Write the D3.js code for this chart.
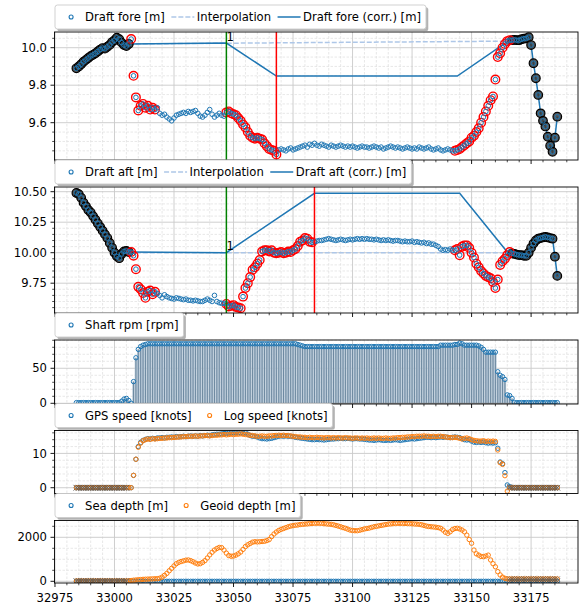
<!DOCTYPE html>
<html>
<head>
<meta charset="utf-8">
<script src="https://cdn.jsdelivr.net/npm/d3@7"></script>
<style>
body { margin: 0; background: #fff; }
svg { display: block; font-family: "DejaVu Sans", sans-serif; font-size: 11.6px; }
</style>
</head>
<body>
<svg id="chart" width="579" height="607"></svg>
<script>
// ---- data (one value per sample, samples 32984 .. 33186) ----
const firstSample = 32984, lastSample = 33186;

const draftFore = [
    9.890, 9.900, 9.912, 9.925, 9.935, 9.945, 9.955, 9.962, 9.970, 9.980,
    9.990, 9.998, 9.995, 10.005, 10.015, 10.030, 10.040, 10.053, 10.045, 10.027,
    10.014, 10.009, 10.020, 10.046, 9.850, 9.735, 9.665, 9.690, 9.700, 9.680,
    9.690, 9.670, 9.680, 9.670, 9.680, 9.650, 9.640, 9.645, 9.630, 9.620,
    9.610, 9.625, 9.640, 9.645, 9.650, 9.655, 9.650, 9.660, 9.655, 9.660,
    9.665, 9.650, 9.635, 9.630, 9.640, 9.655, 9.670, 9.645, 9.630, 9.640,
    9.650, 9.640, 9.635, 9.655, 9.660, 9.650, 9.645, 9.640, 9.625, 9.610,
    9.590, 9.575, 9.550, 9.530, 9.520, 9.515, 9.520, 9.515, 9.510, 9.490,
    9.475, 9.460, 9.455, 9.450, 9.430, 9.455, 9.460, 9.455, 9.450, 9.460,
    9.465, 9.455, 9.460, 9.465, 9.470, 9.475, 9.480, 9.470, 9.485, 9.480,
    9.490, 9.480, 9.475, 9.485, 9.480, 9.475, 9.470, 9.480, 9.475, 9.470,
    9.475, 9.480, 9.475, 9.470, 9.475, 9.470, 9.475, 9.470, 9.465, 9.470,
    9.475, 9.470, 9.470, 9.465, 9.470, 9.475, 9.470, 9.465, 9.470, 9.460,
    9.465, 9.470, 9.475, 9.470, 9.465, 9.470, 9.465, 9.460, 9.465, 9.470,
    9.465, 9.460, 9.465, 9.460, 9.470, 9.465, 9.460, 9.465, 9.470, 9.460,
    9.455, 9.460, 9.465, 9.455, 9.450, 9.455, 9.460, 9.455, 9.450, 9.450,
    9.455, 9.460, 9.470, 9.480, 9.490, 9.500, 9.520, 9.530, 9.550, 9.570,
    9.600, 9.630, 9.660, 9.690, 9.720, 9.740, 9.830, 9.950, 9.970, 10.000,
    10.020, 10.035, 10.040, 10.040, 10.042, 10.040, 10.040, 10.045, 10.048, 10.050,
    10.056, 10.014, 9.917, 9.837, 9.748, 9.650, 9.610, 9.580, 9.525, 9.477,
    9.445, 9.520, 9.632
];

const draftAft = [
    10.490, 10.480, 10.450, 10.410, 10.380, 10.350, 10.330, 10.300, 10.270, 10.240,
    10.210, 10.180, 10.150, 10.120, 10.080, 10.040, 10.000, 9.970, 9.955, 9.990,
    10.010, 10.015, 10.005, 10.005, 9.975, 9.865, 9.720, 9.700, 9.670, 9.630,
    9.680, 9.690, 9.660, 9.680, 9.665, 9.650, 9.630, 9.655, 9.640, 9.630,
    9.625, 9.620, 9.630, 9.625, 9.620, 9.615, 9.620, 9.610, 9.610, 9.605,
    9.610, 9.605, 9.600, 9.600, 9.610, 9.620, 9.610, 9.600, 9.650, 9.600,
    9.590, 9.585, 9.585, 9.580, 9.560, 9.565, 9.570, 9.555, 9.550, 9.545,
    9.640, 9.710, 9.750, 9.800, 9.860, 9.880, 9.910, 9.940, 10.010, 10.020,
    10.020, 10.010, 10.020, 10.000, 9.995, 10.000, 10.005, 9.995, 10.000, 10.010,
    10.005, 10.020, 10.030, 10.055, 10.090, 10.100, 10.120, 10.115, 10.090, 10.085,
    10.090, 10.095, 10.100, 10.100, 10.105, 10.110, 10.115, 10.110, 10.105, 10.100,
    10.105, 10.110, 10.105, 10.100, 10.105, 10.110, 10.105, 10.110, 10.115, 10.110,
    10.115, 10.110, 10.115, 10.110, 10.110, 10.105, 10.110, 10.105, 10.100, 10.105,
    10.100, 10.105, 10.100, 10.095, 10.100, 10.100, 10.095, 10.090, 10.095, 10.090,
    10.090, 10.095, 10.085, 10.090, 10.085, 10.080, 10.085, 10.075, 10.080, 10.070,
    10.070, 10.060, 10.050, 10.030, 10.020, 10.025, 10.020, 10.030, 10.020, 10.020,
    10.030, 9.980, 10.050, 10.060, 10.060, 10.040, 10.000, 9.960, 9.910, 9.880,
    9.850, 9.830, 9.810, 9.800, 9.790, 9.760, 9.710, 9.780, 9.900, 9.930,
    9.950, 9.980, 10.005, 9.995, 9.990, 9.985, 9.980, 9.980, 9.975, 9.975,
    10.000, 10.040, 10.075, 10.100, 10.115, 10.120, 10.125, 10.130, 10.125, 10.120,
    10.115, 9.967, 9.810
];

const shaftRpm = [
    1, 1, 1, 1, 1, 1, 1, 1, 1, 1,
    1, 1, 1, 1, 1, 1, 1, 1, 1, 3,
    6, 7, 4, 0, 31, 65, 77, 81, 83, 84,
    85, 85, 85, 85, 85, 85, 85, 85, 85, 85,
    85, 85, 85, 85, 85, 85, 85, 85, 85, 85,
    85, 85, 85, 85, 85, 85, 85, 85, 85, 85,
    85, 85, 85, 85, 85, 85, 85, 85, 85, 85,
    85, 85, 85, 85, 85, 85, 85, 85, 85, 85,
    85, 85, 85, 85, 85, 85, 85, 85, 85, 85,
    85, 85, 85, 84, 83, 82, 81, 81, 81, 81,
    81, 81, 81, 81, 81, 81, 81, 81, 81, 81,
    81, 81, 81, 81, 81, 81, 81, 81, 81, 81,
    81, 81, 81, 81, 81, 81, 81, 81, 81, 81,
    81, 81, 81, 81, 81, 81, 81, 81, 81, 81,
    81, 81, 81, 81, 81, 81, 81, 81, 81, 81,
    81, 81, 81, 83, 83, 83, 83, 83, 83, 84,
    84, 86, 85, 83, 83, 83, 83, 83, 83, 82,
    80, 77, 73, 73, 73, 73, 73, 45, 40, 38,
    34, 12, 11, 7, 1, 1, 1, 1, 1, 1,
    1, 1, 1, 1, 1, 1, 1, 1, 1, 1,
    1, 1, 1
];

const gpsSpeed = [
    0, 0, 0, 0, 0, 0, 0, 0, 0, 0,
    0, 0, 0, 0, 0, 0, 0, 0, 0, 0,
    0, 0, 0, 0, 3.6, 8.3, 12.0, 13.2, 13.8, 14.1,
    14.3, 14.2, 14.4, 14.3, 14.5, 14.5, 14.6, 14.5, 14.7, 14.7,
    14.8, 14.7, 14.9, 14.8, 14.9, 15.0, 14.9, 15.0, 15.1, 15.0,
    15.1, 15.0, 15.2, 15.1, 15.2, 15.3, 15.2, 15.4, 15.5, 15.6,
    15.6, 15.7, 15.8, 15.8, 15.9, 16.0, 16.0, 16.1, 16.0, 16.0,
    15.9, 16.0, 15.6, 15.2, 15.0, 15.0, 14.8, 14.5, 14.3, 14.3,
    14.2, 14.3, 14.4, 14.6, 14.8, 15.0, 15.1, 15.0, 15.1, 15.0,
    15.0, 14.9, 14.7, 14.6, 14.5, 14.4, 14.3, 14.2, 14.1, 14.0,
    14.0, 14.1, 14.0, 14.0, 13.9, 14.0, 14.1, 14.2, 14.2, 14.3,
    14.3, 14.4, 14.3, 14.3, 14.4, 14.3, 14.2, 14.3, 14.3, 14.2,
    14.2, 14.1, 14.0, 13.9, 13.9, 13.8, 13.9, 14.0, 13.9, 13.8,
    13.8, 13.9, 13.8, 13.9, 14.0, 13.9, 13.8, 13.9, 14.0, 14.1,
    14.2, 14.3, 14.2, 14.3, 14.4, 14.5, 14.6, 14.7, 14.7, 14.6,
    14.7, 14.6, 14.7, 14.8, 14.7, 14.8, 14.7, 14.6, 14.7, 14.8,
    14.7, 14.6, 14.3, 14.0, 13.9, 14.0, 13.6, 13.3, 13.2, 13.3,
    13.2, 13.3, 13.1, 13.0, 13.1, 13.0, 13.1, 11.5, 7.5, 7.0,
    4.4, 0.8, 0.3, 0, 0, 0, 0, 0, 0, 0,
    0, 0, 0, 0, 0, 0, 0, 0, 0, 0,
    0, 0, 0
];

const logSpeed = [
    0, 0, 0, 0, 0, 0, 0, 0, 0, 0,
    0, 0, 0, 0, 0, 0, 0, 0, 0, 0,
    0, 0, 0, 0, 3.6, 8.3, 11.8, 13.0, 13.7, 14.0,
    14.2, 14.1, 14.3, 14.2, 14.3, 14.4, 14.4, 14.5, 14.5, 14.6,
    14.6, 14.7, 14.7, 14.8, 14.8, 14.9, 14.9, 15.0, 15.0, 15.0,
    15.1, 15.0, 15.1, 15.1, 15.2, 15.2, 15.1, 15.2, 15.3, 15.3,
    15.4, 15.4, 15.5, 15.4, 15.5, 15.6, 15.5, 15.6, 15.6, 15.7,
    15.6, 15.5, 15.4, 15.3, 15.2, 15.1, 15.0, 15.0, 15.1, 15.0,
    15.0, 15.1, 15.1, 15.2, 15.2, 15.3, 15.2, 15.3, 15.2, 15.2,
    15.1, 15.0, 14.9, 14.8, 14.8, 14.7, 14.7, 14.6, 14.7, 14.6,
    14.6, 14.7, 14.6, 14.6, 14.5, 14.6, 14.6, 14.5, 14.6, 14.5,
    14.6, 14.5, 14.5, 14.6, 14.5, 14.5, 14.4, 14.5, 14.5, 14.4,
    14.5, 14.4, 14.5, 14.4, 14.4, 14.5, 14.4, 14.5, 14.4, 14.4,
    14.5, 14.4, 14.4, 14.5, 14.5, 14.6, 14.6, 14.7, 14.7, 14.8,
    14.8, 14.9, 14.9, 15.0, 15.0, 15.0, 15.1, 15.0, 15.0, 14.9,
    15.0, 14.9, 15.0, 15.0, 14.9, 14.8, 14.7, 14.6, 14.6, 14.7,
    14.6, 14.4, 14.2, 14.4, 14.5, 14.3, 14.0, 13.8, 13.7, 13.6,
    13.6, 13.7, 13.5, 13.6, 13.5, 13.6, 13.5, 11.0, 7.3, 6.8,
    3.5, -1.0, 0, 0, 0, 0, 0, 0, 0, 0,
    0, 0, 0, 0, 0, 0, 0, 0, 0, 0,
    0, 0, 0
];

const seaDepth = [
    0, 0, 0, 0, 0, 0, 0, 0, 0, 0, 0, 0, 0, 0, 0, 0, 0, 0, 0, 0,
    0, 0, 0, 0, 0, 0, 0, 0, 0, 0, 0, 0, 0, 0, 0, 0, 0, 0, 0, 0,
    0, 0, 0, 0, 0, 0, 0, 0, 0, 0, 0, 0, 0, 0, 0, 0, 0, 0, 0, 0,
    0, 0, 0, 0, 0, 0, 0, 0, 0, 0, 0, 0, 0, 0, 0, 0, 0, 0, 0, 0,
    0, 0, 0, 0, 0, 0, 0, 0, 0, 0, 0, 0, 0, 0, 0, 0, 0, 0, 0, 0,
    0, 0, 0, 0, 0, 0, 0, 0, 0, 0, 0, 0, 0, 0, 0, 0, 0, 0, 0, 0,
    0, 0, 0, 0, 0, 0, 0, 0, 0, 0, 0, 0, 0, 0, 0, 0, 0, 0, 0, 0,
    0, 0, 0, 0, 0, 0, 0, 0, 0, 0, 0, 0, 0, 0, 0, 0, 0, 0, 0, 0,
    0, 0, 0, 0, 0, 0, 0, 0, 0, 0, 0, 0, 0, 0, 0, 0, 0, 0, 0, 0,
    0, 0, 0, 0, 0, 0, 0, 0, 0, 0, 0, 0, 0, 0, 0, 0, 0, 0, 0, 0,
    0, 0, 0
];

const geoidDepth = [
    15, 15, 15, 15, 15, 15, 15, 15, 15, 15,
    15, 15, 15, 15, 15, 15, 15, 15, 15, 15,
    15, 15, 25, 35, 50, 60, 70, 80, 90, 95,
    100, 105, 110, 115, 120, 140, 190, 270, 360, 480,
    590, 700, 800, 860, 900, 930, 960, 970, 940, 890,
    830, 790, 800, 860, 940, 1060, 1200, 1320, 1420, 1490,
    1540, 1530, 1420, 1280, 1170, 1140, 1150, 1190, 1250, 1330,
    1450, 1580, 1660, 1720, 1780, 1800, 1790, 1800, 1810, 1820,
    1850, 1900, 2030, 2150, 2240, 2310, 2360, 2400, 2440, 2480,
    2510, 2530, 2550, 2560, 2580, 2590, 2600, 2610, 2620, 2630,
    2635, 2640, 2640, 2635, 2620, 2610, 2600, 2590, 2570, 2540,
    2510, 2480, 2440, 2410, 2370, 2330, 2310, 2300, 2300, 2320,
    2350, 2380, 2400, 2420, 2450, 2480, 2500, 2520, 2540, 2560,
    2580, 2600, 2610, 2620, 2630, 2635, 2635, 2630, 2630, 2625,
    2620, 2615, 2605, 2600, 2590, 2570, 2540, 2510, 2490, 2480,
    2470, 2460, 2440, 2410, 2330, 2230, 2180, 2250, 2350, 2400,
    2410, 2380, 2330, 2250, 2100, 1900, 1730, 1420, 1250, 1190,
    1130, 1120, 1150, 1190, 970, 800, 660, 440, 290, 190,
    136, 110, 105, 105, 105, 105, 105, 105, 105, 105,
    105, 105, 105, 105, 105, 105, 105, 105, 105, 105,
    105, 105, 105
];

// sample ranges flagged in the draft plots
const foreBlack = [[32984, 33006], [33167, 33186]];
const foreRed = [[33007, 33017], [33047, 33068], [33143, 33166]];
const aftBlack = [[32984, 33006], [33167, 33186]];
const aftRed = [[33007, 33017], [33047, 33083], [33143, 33166]];
// samples without valid speed / depth
const invalidRanges = [[32984, 33005], [33166, 33186]];

// interpolation and corrected draft knots
const foreInterp = [[33006, 10.020], [33166, 10.035]];
const aftInterp = [[33006, 10.0], [33166, 10.0]];
const foreCorrKnots = [[33047, 10.025], [33068, 9.849], [33144, 9.849], [33165, 10.032]];
const aftCorrKnots = [[33047, 10.0], [33084, 10.487], [33145, 10.487], [33165, 10.005]];

// events
const startEvent = 33047;
const foreEnd = 33068;
const aftEnd = 33084;

// axis ticks
const xTicks = [32975, 33000, 33025, 33050, 33075, 33100, 33125, 33150, 33175];
const foreTicks = [9.6, 9.8, 10.0];
const aftTicks = [9.75, 10.0, 10.25, 10.5];
const rpmTicks = [0, 50];
const speedTicks = [0, 10];
const depthTicks = [0, 2000];

// ---- layout ----
const C0 = '#1f77b4', C1 = '#ff7f0e', C0light = '#aec7e8';
const L = 54.5, R = 578;
const svg = d3.select('#chart');

let x = d3.scaleLinear().domain([32974.8, 33194.7]).range([L, R]);
let samples = d3.range(firstSample, lastSample + 1);

let inRanges = (list, v) => list.some(r => v >= r[0] && v <= r[1]);
let pts = (values) => samples.map((s, i) => ({ s: s, v: values[i] }));

let minorTicks = (domain, step, majors) => {
    let lo = Math.ceil(Math.min(...domain) / step), hi = Math.floor(Math.max(...domain) / step);
    return d3.range(lo, hi + 1).map(k => k * step)
        .filter(v => !majors.some(m => Math.abs(m - v) < step / 10));
};

let panelCount = 0;

let makePanel = (cfg) => {
    let y = d3.scaleLinear().domain(cfg.domain).range([cfg.bottom, cfg.top]);
    let g = svg.append('g');
    let id = 'clip' + (panelCount++);
    svg.append('clipPath').attr('id', id)
        .append('rect').attr('x', L).attr('y', cfg.top).attr('width', R - L).attr('height', cfg.bottom - cfg.top);

    let xMinor = minorTicks(x.domain(), 5, xTicks);
    let yMinor = minorTicks(cfg.domain, cfg.minor, cfg.ticks);

    // minor grid
    g.selectAll('.gx-minor').data(xMinor).enter().append('line')
        .attr('x1', d => x(d)).attr('x2', d => x(d)).attr('y1', cfg.top).attr('y2', cfg.bottom)
        .attr('stroke', '#dedede').attr('stroke-width', 0.7).attr('stroke-dasharray', '2.5,1.5');
    g.selectAll('.gy-minor').data(yMinor).enter().append('line')
        .attr('x1', L).attr('x2', R).attr('y1', d => y(d)).attr('y2', d => y(d))
        .attr('stroke', '#dedede').attr('stroke-width', 0.7).attr('stroke-dasharray', '2.5,1.5');
    // major grid
    g.selectAll('.gx').data(xTicks).enter().append('line')
        .attr('x1', d => x(d)).attr('x2', d => x(d)).attr('y1', cfg.top).attr('y2', cfg.bottom)
        .attr('stroke', '#c9c9c9').attr('stroke-width', 0.9);
    g.selectAll('.gy').data(cfg.ticks).enter().append('line')
        .attr('x1', L).attr('x2', R).attr('y1', d => y(d)).attr('y2', d => y(d))
        .attr('stroke', '#c9c9c9').attr('stroke-width', 0.9);

    let plot = g.append('g').attr('clip-path', 'url(#' + id + ')');
    return { y: y, g: g, plot: plot, cfg: cfg, xMinor: xMinor, yMinor: yMinor };
};

let finishPanel = (p, showX) => {
    let cfg = p.cfg, g = svg.append('g');
    g.append('rect').attr('x', L).attr('y', cfg.top).attr('width', R - L).attr('height', cfg.bottom - cfg.top)
        .attr('fill', 'none').attr('stroke', '#000').attr('stroke-width', 0.9);
    // y ticks
    g.selectAll('.ty').data(cfg.ticks).enter().append('line')
        .attr('x1', L - 4).attr('x2', L).attr('y1', d => p.y(d)).attr('y2', d => p.y(d))
        .attr('stroke', '#000').attr('stroke-width', 0.9);
    g.selectAll('.tym').data(p.yMinor).enter().append('line')
        .attr('x1', L - 2.3).attr('x2', L).attr('y1', d => p.y(d)).attr('y2', d => p.y(d))
        .attr('stroke', '#000').attr('stroke-width', 0.7);
    g.selectAll('.ly').data(cfg.ticks).enter().append('text')
        .attr('x', L - 7.5).attr('y', d => p.y(d)).attr('dy', '0.36em')
        .attr('text-anchor', 'end').attr('fill', '#000')
        .text(d => d3.format(cfg.fmt)(d));
    // x ticks
    g.selectAll('.tx').data(xTicks).enter().append('line')
        .attr('x1', d => x(d)).attr('x2', d => x(d)).attr('y1', cfg.bottom).attr('y2', cfg.bottom + 4)
        .attr('stroke', '#000').attr('stroke-width', 0.9);
    g.selectAll('.txm').data(p.xMinor).enter().append('line')
        .attr('x1', d => x(d)).attr('x2', d => x(d)).attr('y1', cfg.bottom).attr('y2', cfg.bottom + 2.3)
        .attr('stroke', '#000').attr('stroke-width', 0.7);
    if (showX) {
        g.selectAll('.lx').data(xTicks).enter().append('text')
            .attr('x', d => x(d)).attr('y', cfg.bottom + 19)
            .attr('text-anchor', 'middle').attr('fill', '#000')
            .text(d => d);
    }
};

let legend = (cfg, entries) => {
    let h = 24, top = cfg.top - 27, x0 = 55, cy = top + h / 2;
    let lg = svg.append('g');
    let shadow = lg.append('rect'), box = lg.append('rect');
    let cx = x0 + 4.6;
    entries.forEach((e, k) => {
        if (k) cx += 6.5;
        if (e.type === 'marker') {
            lg.append('circle').attr('cx', cx + 11.5).attr('cy', cy).attr('r', 2)
                .attr('fill', 'none').attr('stroke', e.color).attr('stroke-width', 1.1);
        } else {
            lg.append('line').attr('x1', cx).attr('x2', cx + 23).attr('y1', cy).attr('y2', cy)
                .attr('stroke', e.color).attr('stroke-width', 1.5)
                .attr('stroke-dasharray', e.type === 'dash' ? '5,2' : null);
        }
        cx += 23 + 2.5;
        let txt = lg.append('text').attr('x', cx).attr('y', cy).attr('dy', '0.36em').attr('fill', '#000').text(e.label);
        cx += txt.node().getComputedTextLength();
    });
    let w = cx + 5 - x0;
    shadow.attr('x', x0 + 2.3).attr('y', top + 2.3).attr('width', w).attr('height', h)
        .attr('rx', 2.5).attr('fill', '#808080').attr('opacity', 0.6);
    box.attr('x', x0).attr('y', top).attr('width', w).attr('height', h)
        .attr('rx', 2.5).attr('fill', '#fff').attr('stroke', '#cccccc').attr('stroke-width', 0.9);
};

let rings = (plot, data, y, color, r) => {
    plot.append('g').selectAll('circle').data(data).enter().append('circle')
        .attr('cx', d => x(d.s)).attr('cy', d => y(d.v)).attr('r', r)
        .attr('fill', 'none').attr('stroke', color).attr('stroke-width', 1);
};

let crosses = (plot, data, y) => {
    plot.append('g').selectAll('path').data(data).enter().append('path')
        .attr('d', d => {
            let cx = x(d.s), cy = y(d.v);
            return `M${cx - 2.8},${cy - 2.8}L${cx + 2.8},${cy + 2.8}M${cx - 2.8},${cy + 2.8}L${cx + 2.8},${cy - 2.8}`;
        })
        .attr('stroke', '#5a5a5a').attr('stroke-width', 1).attr('opacity', 0.6);
};

let draftPanel = (cfg, values, blackR, redR, interp, knots, endEvent, labels) => {
    let p = makePanel(cfg);
    let data = pts(values);
    let line = d3.line().x(d => x(d[0])).y(d => p.y(d[1]));

    p.plot.append('path').datum(interp).attr('d', line)
        .attr('fill', 'none').attr('stroke', C0light).attr('stroke-width', 1.5).attr('stroke-dasharray', '5,2');

    let blackPts = data.filter(d => inRanges(blackR, d.s));
    let corr = blackPts.filter(d => d.s <= blackR[0][1]).map(d => [d.s, d.v])
        .concat(knots)
        .concat(blackPts.filter(d => d.s >= blackR[1][0]).map(d => [d.s, d.v]));
    p.plot.append('path').datum(corr).attr('d', line)
        .attr('fill', 'none').attr('stroke', C0).attr('stroke-width', 1.5);

    p.plot.append('g').selectAll('circle').data(blackPts).enter().append('circle')
        .attr('cx', d => x(d.s)).attr('cy', d => p.y(d.v)).attr('r', 4.3)
        .attr('fill', '#3a3a3a').attr('fill-opacity', 0.85).attr('stroke', '#000').attr('stroke-width', 1.2);
    p.plot.append('g').selectAll('circle').data(data.filter(d => inRanges(redR, d.s))).enter().append('circle')
        .attr('cx', d => x(d.s)).attr('cy', d => p.y(d.v)).attr('r', 4.3)
        .attr('fill', 'none').attr('stroke', '#ff0000').attr('stroke-width', 1.4);
    rings(p.plot, data, p.y, C0, 2.3);

    [[startEvent, 'green'], [endEvent, '#ff0000']].forEach(ev => {
        p.plot.append('line').attr('x1', x(ev[0])).attr('x2', x(ev[0]))
            .attr('y1', cfg.top).attr('y2', cfg.bottom)
            .attr('stroke', ev[1]).attr('stroke-width', 1.5);
    });
    p.plot.append('text').attr('x', x(knots[0][0])).attr('y', p.y(knots[0][1]) - 2.5)
        .attr('fill', '#000').text('1');

    finishPanel(p, false);
    legend(cfg, [
        { type: 'marker', color: C0, label: labels[0] },
        { type: 'dash', color: C0light, label: 'Interpolation' },
        { type: 'line', color: C0, label: labels[1] }
    ]);
};

// ---- panel 1: draft fore ----
draftPanel({ top: 32, bottom: 160, domain: [9.4011, 10.0837], ticks: foreTicks, minor: 0.05, fmt: '.1f' },
    draftFore, foreBlack, foreRed, foreInterp, foreCorrKnots, foreEnd,
    ['Draft fore [m]', 'Draft fore (corr.) [m]']);

// ---- panel 2: draft aft ----
draftPanel({ top: 187, bottom: 313, domain: [9.5057, 10.5385], ticks: aftTicks, minor: 0.05, fmt: '.2f' },
    draftAft, aftBlack, aftRed, aftInterp, aftCorrKnots, aftEnd,
    ['Draft aft [m]', 'Draft aft (corr.) [m]']);

// ---- panel 3: shaft rpm (stems) ----
(() => {
    let cfg = { top: 340, bottom: 404, domain: [-1.0, 90.4], ticks: rpmTicks, minor: 10, fmt: 'd' };
    let p = makePanel(cfg);
    let data = pts(shaftRpm);
    p.plot.append('g').selectAll('line').data(data).enter().append('line')
        .attr('x1', d => x(d.s)).attr('x2', d => x(d.s)).attr('y1', p.y(0)).attr('y2', d => p.y(d.v))
        .attr('stroke', '#b3c5d5').attr('stroke-width', 2.4);
    p.plot.append('g').selectAll('line').data(data).enter().append('line')
        .attr('x1', d => x(d.s)).attr('x2', d => x(d.s)).attr('y1', p.y(0)).attr('y2', d => p.y(d.v))
        .attr('stroke', '#5b7892').attr('stroke-width', 0.8);
    p.plot.append('line').attr('x1', x(firstSample)).attr('x2', x(lastSample))
        .attr('y1', p.y(0)).attr('y2', p.y(0)).attr('stroke', '#8c8c8c').attr('stroke-width', 1);
    rings(p.plot, data, p.y, C0, 2.2);
    finishPanel(p, false);
    legend(cfg, [{ type: 'marker', color: C0, label: 'Shaft rpm [rpm]' }]);
})();

// ---- panel 4: speeds ----
(() => {
    let cfg = { top: 430.5, bottom: 493.5, domain: [-1.69, 16.68], ticks: speedTicks, minor: 2, fmt: 'd' };
    let p = makePanel(cfg);
    let gps = pts(gpsSpeed), log = pts(logSpeed);
    rings(p.plot, gps, p.y, C0, 2.2);
    rings(p.plot, log, p.y, C1, 2.2);
    crosses(p.plot, gps.filter(d => inRanges(invalidRanges, d.s)), p.y);
    crosses(p.plot, log.filter(d => inRanges(invalidRanges, d.s)), p.y);
    finishPanel(p, false);
    legend(cfg, [
        { type: 'marker', color: C0, label: 'GPS speed [knots]' },
        { type: 'marker', color: C1, label: 'Log speed [knots]' }
    ]);
})();

// ---- panel 5: depths ----
(() => {
    let cfg = { top: 520.5, bottom: 583, domain: [-77, 2764], ticks: depthTicks, minor: 500, fmt: 'd' };
    let p = makePanel(cfg);
    let sea = pts(seaDepth), geoid = pts(geoidDepth);
    rings(p.plot, sea, p.y, C0, 2.2);
    rings(p.plot, geoid, p.y, C1, 2.2);
    crosses(p.plot, sea.filter(d => inRanges(invalidRanges, d.s)), p.y);
    crosses(p.plot, geoid.filter(d => inRanges(invalidRanges, d.s)), p.y);
    finishPanel(p, true);
    legend(cfg, [
        { type: 'marker', color: C0, label: 'Sea depth [m]' },
        { type: 'marker', color: C1, label: 'Geoid depth [m]' }
    ]);
})();
</script>
</body>
</html>
